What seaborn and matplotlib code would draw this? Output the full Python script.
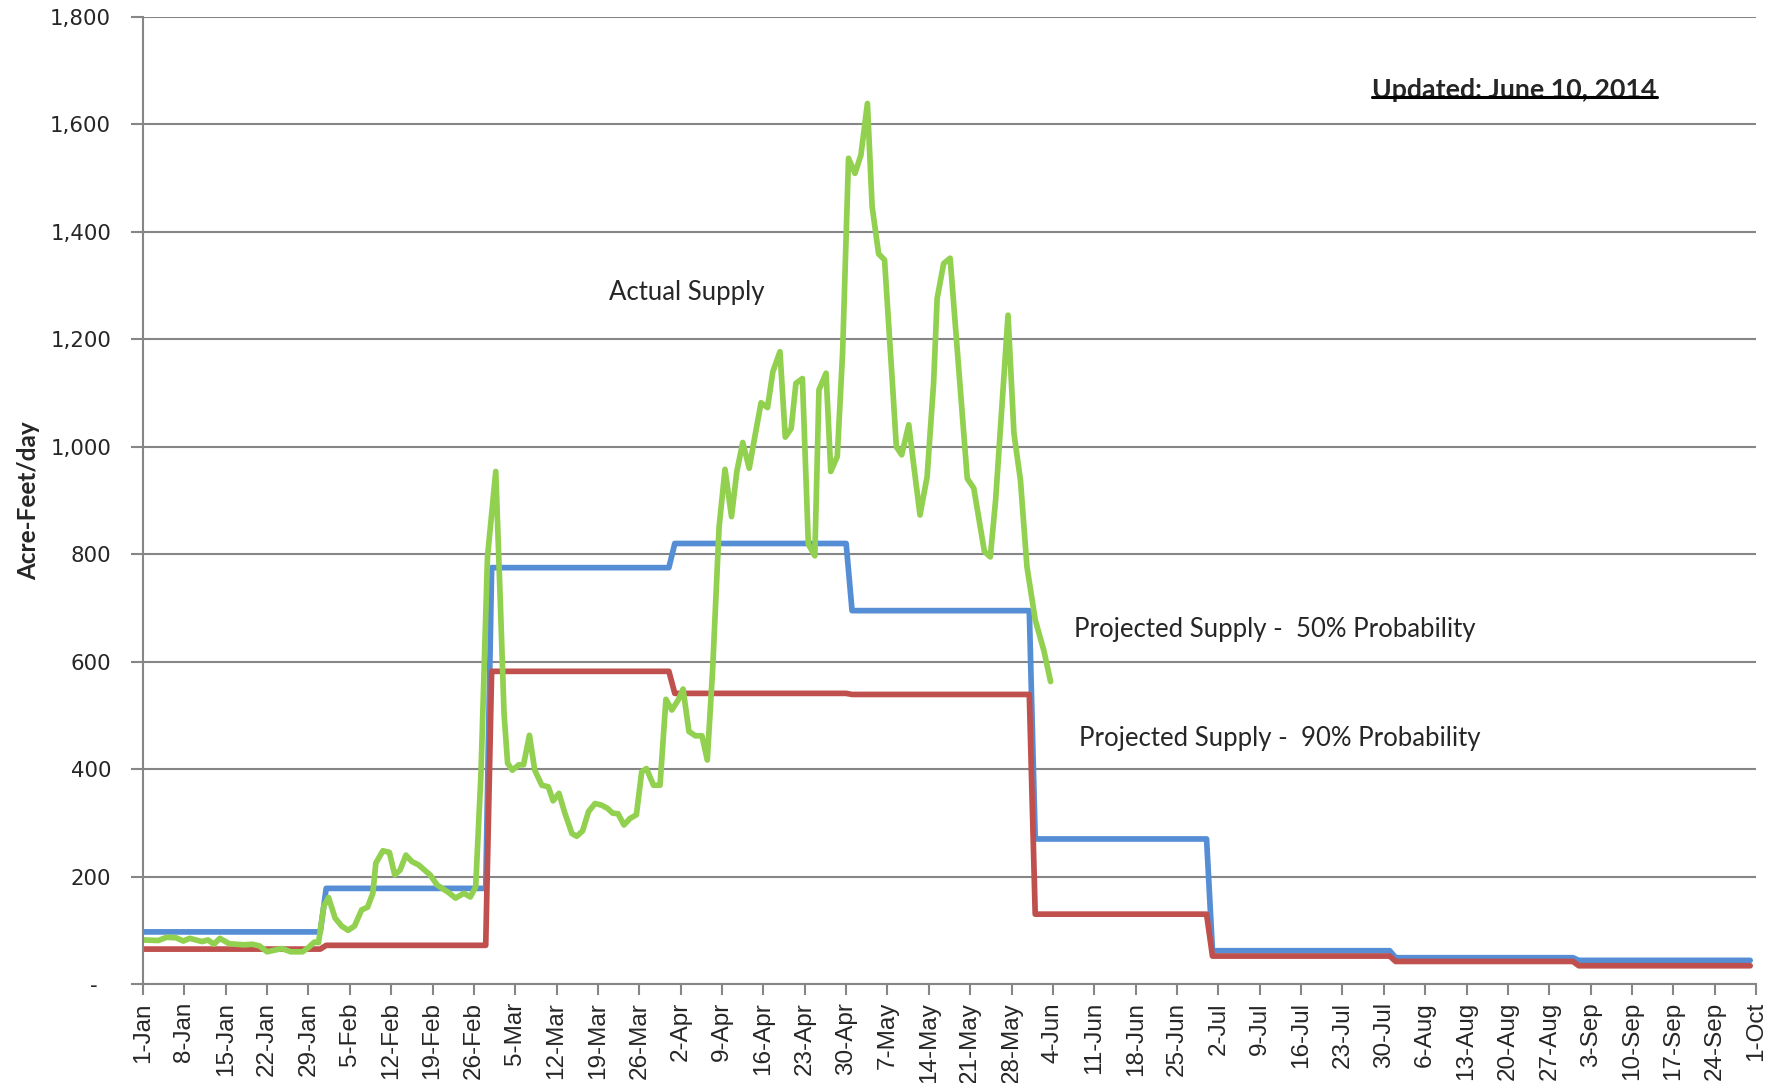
"""
Daily actual supply vs projected supply (50% and 90% probability), Jan-Oct 2014
"""

import pandas as pd
import matplotlib.pyplot as plt
import matplotlib.lines as mlines
import seaborn as sns

# ---- data ----
BASE = pd.Timestamp("2014-01-01")

# actual supply, day offset from 1-Jan and acre-feet/day
actual_days = [0, 2.6, 4, 5.6, 6.8, 7.9, 10, 11, 12, 13, 14.6, 17, 18.5, 19.7, 21,
               23.5, 25, 27, 28, 29, 29.7, 30.6, 31.4, 32.5, 33.6, 34.7, 35.8, 37,
               38, 38.9, 39.4, 40.6, 41.7, 42.6, 43.5, 44.5, 45.5, 46.6, 48.6, 49.8,
               51.5, 52.9, 54.3, 55.4, 56.3, 57.2, 58.3, 59.7, 60.5, 61.1, 61.7, 62.5,
               63.6, 64.4, 65.4, 66.3, 67.5, 68.6, 69.4, 70.4, 71.4, 72.6, 73.4, 74.4,
               75.4, 76.5, 77.6, 78.6, 79.5, 80.4, 81.4, 82.4, 83.5, 84.4, 85.2, 86.4,
               87.5, 88.5, 89.5, 90.6, 91.4, 92.4, 93.5, 94.6, 95.5, 96.4, 97.5, 98.5,
               99.6, 100.5, 101.5, 102.6, 103.5, 104.6, 105.7, 106.6, 107.8, 108.7,
               109.7, 110.5, 111.6, 112.6, 113.7, 114.4, 115.6, 116.4, 117.5, 118.4,
               119.4, 120.5, 121.5, 122.6, 123.4, 124.5, 125.5, 126.8, 127.5, 128.4,
               129.6, 130.4, 131.5, 132.7, 133.8, 134.4, 135.5, 136.6, 138.3, 139.5,
               140.6, 142.4, 143.4, 144.3, 146.4, 147.4, 148.5, 149.6, 151, 152.5, 153.6]
actual_vals = [82, 81, 87, 86, 80, 85, 79, 82, 74, 85, 75, 73, 74, 71, 60,
               66, 60, 60, 68, 78, 77, 145, 161, 123, 108, 100, 108, 138,
               143, 169, 225, 248, 245, 203, 212, 240, 228, 222, 203, 184,
               172, 160, 169, 162, 181, 392, 795, 954, 702, 504, 411, 398,
               408, 408, 463, 398, 370, 367, 341, 355, 318, 280, 275, 285,
               321, 336, 333, 327, 318, 317, 296, 308, 315, 395, 401, 370,
               370, 530, 510, 529, 549, 470, 462, 462, 417, 584, 851, 958,
               870, 954, 1008, 960, 1016, 1082, 1073, 1140, 1177, 1018,
               1034, 1118, 1127, 819, 797, 1106, 1137, 954, 982, 1175,
               1537, 1509, 1543, 1639, 1447, 1359, 1348, 1124, 1000, 985,
               1041, 969, 873, 944, 1118, 1276, 1341, 1351, 1112, 941,
               923, 805, 795, 901, 1245, 1025, 938, 777, 678, 619, 563]

# projected supply: monthly step values, starting on the 1st of each month
step_starts = ["2014-01-01", "2014-02-01", "2014-03-01", "2014-04-01", "2014-05-01",
               "2014-06-01", "2014-07-01", "2014-08-01", "2014-09-01"]
step_end = "2014-09-30"
proj50_vals = [97, 178, 775, 820, 695, 270, 62, 49, 44]
proj90_vals = [65, 72, 582, 541, 539, 130, 52, 42, 34]

y_ticks = [0, 200, 400, 600, 800, 1000, 1200, 1400, 1600, 1800]


def step_frame(starts, end, vals):
    # each month holds its value until the day before the next month starts
    starts = pd.to_datetime(starts)
    ends = list(starts[1:] - pd.Timedelta(days=1)) + [pd.Timestamp(end)]
    dates, values = [], []
    for s, e, v in zip(starts, ends, vals):
        dates += [s, e]
        values += [v, v]
    return pd.DataFrame({"date": dates, "value": values})


actual = pd.DataFrame({"date": BASE + pd.to_timedelta(actual_days, unit="D"),
                       "value": actual_vals})
proj50 = step_frame(step_starts, step_end, proj50_vals)
proj90 = step_frame(step_starts, step_end, proj90_vals)

# ---- plot ----
sns.set_theme(style="white")
grey = "#868686"

fig = plt.figure(figsize=(17.81, 10.83), dpi=100)
ax = fig.add_axes([0.0803, 0.0914, 0.9057, 0.8929])

sns.lineplot(data=proj50, x="date", y="value", color="#558ED5", linewidth=4.1, ax=ax, sort=False)
sns.lineplot(data=proj90, x="date", y="value", color="#C0504D", linewidth=4.1, ax=ax, sort=False)
sns.lineplot(data=actual, x="date", y="value", color="#92D050", linewidth=4.1, ax=ax, sort=False)

ax.set_xlim(BASE, pd.Timestamp("2014-10-01"))
ax.set_ylim(0, 1800)

# weekly ticks
week_ticks = pd.date_range("2014-01-01", "2014-10-01", freq="7D")
ax.set_xticks(week_ticks)
ax.set_xticklabels([f"{d.day}-{d.strftime('%b')}" for d in week_ticks],
                   rotation=90, fontsize=17.5, family="Liberation Sans")
ax.set_yticks(y_ticks)
ax.set_yticklabels(["-  " if v == 0 else f"{v:,}" for v in y_ticks],
                   fontsize=15.3, family="DejaVu Sans")

ax.tick_params(axis="x", direction="out", length=8, width=1.5, color=grey, pad=5, bottom=True)
ax.tick_params(axis="y", direction="out", length=9, width=1.5, color=grey, pad=14, left=True)

ax.grid(axis="y", color=grey, linewidth=1.5)
ax.set_axisbelow(True)
for side in ["top", "right"]:
    ax.spines[side].set_visible(False)
for side in ["left", "bottom"]:
    ax.spines[side].set_color(grey)
    ax.spines[side].set_linewidth(1.5)

ax.set_xlabel("")
ax.set_ylabel("Acre-Feet/day", fontsize=17.5, fontweight="bold", family="Lato")
ax.yaxis.set_label_coords(-0.064, 0.5)

# series labels
ax.text(0.337, 0.715, "Actual Supply", transform=ax.transAxes, fontsize=18.5,
        family="Lato", ha="center", va="center")
ax.text(0.577, 0.367, "Projected Supply -  50% Probability", transform=ax.transAxes,
        fontsize=18.5, family="Lato", ha="left", va="center")
ax.text(0.580, 0.254, "Projected Supply -  90% Probability", transform=ax.transAxes,
        fontsize=18.5, family="Lato", ha="left", va="center")
upd = ax.text(0.762, 0.925, "Updated: June 10, 2014", transform=ax.transAxes,
              fontsize=19.3, family="Lato", fontweight="bold", ha="left", va="center")

# underline the update note
fig.canvas.draw()
bb = upd.get_window_extent().transformed(fig.transFigure.inverted())
uy = bb.y0 + 0.004
fig.add_artist(mlines.Line2D([bb.x0, bb.x1], [uy, uy], color="black", linewidth=2.2,
                             transform=fig.transFigure))

fig.savefig("out.png", dpi=100)
